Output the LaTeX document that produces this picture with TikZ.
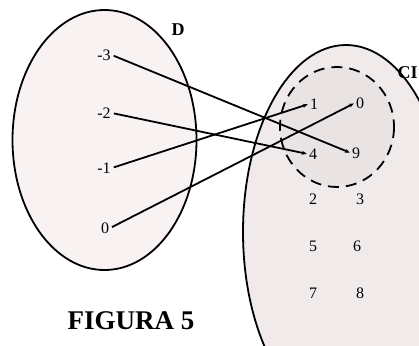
\documentclass[tikz,border=0pt]{standalone}
\usepackage{fontspec}
\setmainfont{Liberation Serif}
\usetikzlibrary{arrows.meta}
\begin{document}
\begin{tikzpicture}[x=1pt,y=-1pt,
  num/.style={font=\fontsize{16}{16}\selectfont, inner sep=1pt},
  conn/.style={line width=1.8pt, -{Stealth[length=5pt,width=4pt]}, shorten >=1pt, shorten <=2pt},
  setb/.style={line width=1.8pt}]
\useasboundingbox (0,0) rectangle (419,345);
\clip (0,0) rectangle (419,345);
\fill[white] (0,0) rectangle (419,345);
% sets
\draw[setb, fill={rgb,255:red,248;green,242;blue,242}] (104.5,140) ellipse [x radius=92, y radius=130];
\draw[setb, fill={rgb,255:red,240;green,234;blue,234}] (346,232) ellipse [x radius=103, y radius=187];
\draw[setb, dash pattern=on 11pt off 7pt, fill={rgb,255:red,233;green,227;blue,227}] (337,127) ellipse [x radius=57, y radius=60];
% labels
\node[font=\bfseries\fontsize{18}{18}\selectfont] (lD) at (178,30) {D};
\node[font=\bfseries\fontsize{18}{18}\selectfont, anchor=west] (lC) at (394,73) {CI};
\node[font=\bfseries\fontsize{27}{27}\selectfont] (fig) at (131,321) {FIGURA 5};
% domain
\node[num] (d3) at (104,55) {-3};
\node[num] (d2) at (104,113) {-2};
\node[num] (d1) at (104,168) {-1};
\node[num] (d0) at (105,228) {0};
% codomain
\node[num] (c1) at (314,104) {1};
\node[num] (c0) at (360,103) {0};
\node[num] (c4) at (313,154) {4};
\node[num] (c9) at (356,153) {9};
\node[num] (c2) at (313,199) {2};
\node[num] (c3) at (360,199) {3};
\node[num] (c5) at (313,246) {5};
\node[num] (c6) at (357,246) {6};
\node[num] (c7) at (313,293) {7};
\node[num] (c8) at (360,293) {8};
% mapping
\draw[conn] (d3.east) -- (c9.west);
\draw[conn] (d2.east) -- (c4.west);
\draw[conn] (d1.east) -- (c1.west);
\draw[conn] (d0.east) -- (c0.west);
\end{tikzpicture}
\end{document}
